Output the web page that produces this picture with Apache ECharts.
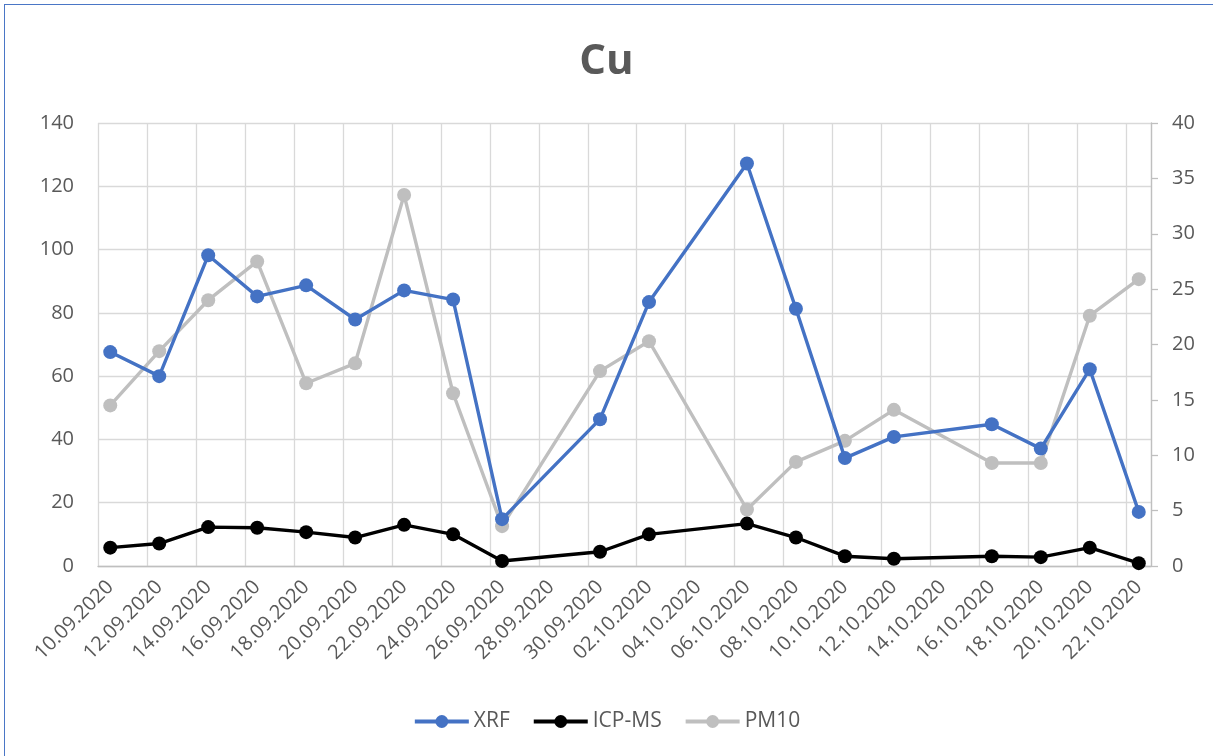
<!DOCTYPE html>
<html>
<head>
<meta charset="utf-8">
<script src="https://cdn.jsdelivr.net/npm/echarts@6/dist/echarts.min.js"></script>
<style>
  html, body { margin: 0; padding: 0; background: #ffffff; }
  #chart { position: absolute; left: 0; top: 0; width: 1213px; height: 756px; }
  #frame { position: absolute; left: 4px; top: 4px; width: 1400px; height: 1000px;
           border: 1.5px solid #4a76c6; pointer-events: none; box-sizing: border-box; }
</style>
</head>
<body>
<div id="chart"></div>
<div id="frame"></div>
<script>
// Every day on the date axis (category slots)
const dayLabels = [
  '10.09.2020','11.09.2020','12.09.2020','13.09.2020','14.09.2020','15.09.2020','16.09.2020',
  '17.09.2020','18.09.2020','19.09.2020','20.09.2020','21.09.2020','22.09.2020','23.09.2020',
  '24.09.2020','25.09.2020','26.09.2020','27.09.2020','28.09.2020','29.09.2020','30.09.2020',
  '01.10.2020','02.10.2020','03.10.2020','04.10.2020','05.10.2020','06.10.2020','07.10.2020',
  '08.10.2020','09.10.2020','10.10.2020','11.10.2020','12.10.2020','13.10.2020','14.10.2020',
  '15.10.2020','16.10.2020','17.10.2020','18.10.2020','19.10.2020','20.10.2020','21.10.2020',
  '22.10.2020'
];

// Sampling dates
const sampleDates = [
  '10.09.2020','12.09.2020','14.09.2020','16.09.2020','18.09.2020','20.09.2020','22.09.2020',
  '24.09.2020','26.09.2020','30.09.2020','02.10.2020','06.10.2020','08.10.2020','10.10.2020',
  '12.10.2020','16.10.2020','18.10.2020','20.10.2020','22.10.2020'
];

const xrf   = [67.6, 60.0, 98.2, 85.2, 88.7, 77.9, 87.1, 84.2, 14.8, 46.4, 83.4, 127.2, 81.3, 34.1, 40.8, 44.8, 37.1, 62.2, 17.1];
const icpms = [5.8, 7.1, 12.3, 12.1, 10.7, 9.0, 13.0, 10.0, 1.6, 4.5, 10.0, 13.4, 9.0, 3.1, 2.3, 3.1, 2.8, 5.8, 0.9];
const pm10  = [14.5, 19.4, 24.0, 27.5, 16.5, 18.3, 33.5, 15.6, 3.6, 17.6, 20.3, 5.1, 9.4, 11.3, 14.1, 9.3, 9.3, 22.6, 25.9];

const leftTicks  = { min: 0, max: 140, interval: 20 };
const rightTicks = { min: 0, max: 40, interval: 5 };

const pairs = vals => sampleDates.map((d, i) => [d, vals[i]]);

const textColor = '#595959';
const font = 'Open Sans';

function lineSeries(name, vals, color, yIndex, z) {
  return {
    name: name, type: 'line', yAxisIndex: yIndex, data: pairs(vals),
    symbol: 'circle', symbolSize: 14, connectNulls: true, z: z,
    lineStyle: { color: color, width: 3.4 },
    itemStyle: { color: color },
    emphasis: { disabled: true }
  };
}

const chart = echarts.init(document.getElementById('chart'), null, { renderer: 'canvas' });
chart.setOption({
  animation: false,
  backgroundColor: '#ffffff',
  textStyle: { fontFamily: font },
  title: {
    text: 'Cu', left: 'center', top: 36,
    textStyle: { fontSize: 42, fontWeight: 'bold', color: textColor, fontFamily: font }
  },
  legend: {
    bottom: 19, left: 'center', itemWidth: 54, itemHeight: 16, itemGap: 22,
    lineStyle: { width: 4 },
    textStyle: { fontSize: 21, color: textColor, fontFamily: font },
    data: ['XRF', 'ICP-MS', 'PM10']
  },
  grid: { left: 98, right: 62, top: 123, bottom: 190 },
  xAxis: {
    type: 'category', data: dayLabels, boundaryGap: true,
    axisLine: { show: true, lineStyle: { color: '#bfbfbf', width: 1.3 } },
    axisTick: { show: false, interval: 1 },
    axisLabel: { interval: 1, rotate: 45, fontSize: 20, color: textColor, margin: 18, fontFamily: font },
    splitLine: { show: true, interval: 1, lineStyle: { color: '#d9d9d9', width: 1.3 } }
  },
  yAxis: [
    {
      type: 'value', min: leftTicks.min, max: leftTicks.max, interval: leftTicks.interval,
      axisLine: { show: false }, axisTick: { show: false },
      axisLabel: { fontSize: 20, color: textColor, margin: 24, fontFamily: font },
      splitLine: { show: true, lineStyle: { color: '#d9d9d9', width: 1.3 } }
    },
    {
      type: 'value', min: rightTicks.min, max: rightTicks.max, interval: rightTicks.interval,
      position: 'right',
      axisLine: { show: true, lineStyle: { color: '#bfbfbf', width: 1.3 } },
      axisTick: { show: true, inside: false, length: 7, lineStyle: { color: '#bfbfbf', width: 1.3 } },
      axisLabel: { fontSize: 20, color: textColor, margin: 21, fontFamily: font },
      splitLine: { show: false }
    }
  ],
  series: [
    lineSeries('XRF', xrf, '#4472c4', 0, 3),
    lineSeries('ICP-MS', icpms, '#000000', 0, 4),
    lineSeries('PM10', pm10, '#bfbfbf', 1, 2)
  ]
});
</script>
</body>
</html>
